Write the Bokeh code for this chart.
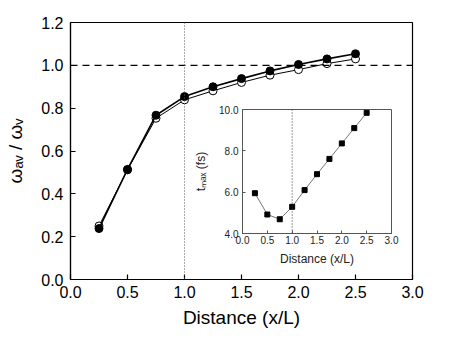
from bokeh.plotting import figure
from bokeh.layouts import column
from bokeh.models import Span, FixedTicker, NumeralTickFormatter
from bokeh.embed import file_html
from bokeh.resources import INLINE

# main data
dist = [0.25, 0.5, 0.75, 1.0, 1.25, 1.5, 1.75, 2.0, 2.25, 2.5]
ratio_filled = [0.238, 0.514, 0.767, 0.854, 0.900, 0.938, 0.974, 1.004, 1.030, 1.054]
ratio_open = [0.250, 0.512, 0.753, 0.839, 0.881, 0.920, 0.954, 0.980, 1.008, 1.030]

# inset data
inset_dist = [0.25, 0.5, 0.75, 1.0, 1.25, 1.5, 1.75, 2.0, 2.25, 2.5]
tmax = [5.95, 4.92, 4.69, 5.29, 6.10, 6.87, 7.61, 8.36, 9.10, 9.84]

main_xticks = [0.0, 0.5, 1.0, 1.5, 2.0, 2.5, 3.0]
main_yticks = [0.0, 0.2, 0.4, 0.6, 0.8, 1.0, 1.2]
inset_xticks = [0.0, 0.5, 1.0, 1.5, 2.0, 2.5, 3.0]
inset_yticks = [4.0, 6.0, 8.0, 10.0]

FONT = "Liberation Sans"

p = figure(width=430, height=340, x_range=(0, 3), y_range=(0, 1.2),
           output_backend="svg", toolbar_location=None,
           min_border_left=68, min_border_right=18, min_border_top=22, min_border_bottom=61)
p.grid.visible = False
p.outline_line_color = "black"
p.outline_line_width = 1.2
for ax in (p.xaxis[0], p.yaxis[0]):
    ax.major_tick_in = 5
    ax.major_tick_out = 0
    ax.minor_tick_in = 0
    ax.minor_tick_out = 0
    ax.axis_line_color = "black"
    ax.axis_line_width = 1.2
    ax.major_tick_line_width = 1.2
    ax.major_label_text_font = FONT
    ax.major_label_text_font_size = "16px"
    ax.major_label_text_color = "black"
    ax.axis_label_text_font = FONT
    ax.axis_label_text_font_style = "normal"
    ax.axis_label_text_font_size = "19px"
    ax.axis_label_text_color = "black"
    ax.formatter = NumeralTickFormatter(format="0.0")
p.xaxis.ticker = FixedTicker(ticks=main_xticks)
p.yaxis.ticker = FixedTicker(ticks=main_yticks)
p.xaxis.axis_label = "Distance (x/L)"
p.yaxis.axis_label = "ωₐᵥ / ωᵥ"
p.xaxis.major_label_standoff = 6
p.yaxis.major_label_standoff = 7
p.xaxis.axis_label_standoff = 6
p.yaxis.axis_label_standoff = 12

p.add_layout(Span(location=1.0, dimension="width", line_color="black",
                  line_dash="7 5", line_width=1.2))
p.add_layout(Span(location=1.0, dimension="height", line_color="#555555",
                  line_dash="1 2", line_width=1))

p.line(dist, ratio_open, line_color="black", line_width=1)
p.scatter(dist, ratio_open, size=8, marker="circle", fill_color="white",
          line_color="black", line_width=1)
p.line(dist, ratio_filled, line_color="black", line_width=1.6)
p.scatter(dist, ratio_filled, size=8, marker="circle", fill_color="black",
          line_color="black")

# inset
q = figure(width=237, height=165, x_range=(0, 3), y_range=(4, 10),
           output_backend="svg", toolbar_location=None,
           min_border_left=70, min_border_right=8, min_border_top=5, min_border_bottom=36,
           styles={"position": "absolute", "left": "172px", "top": "104px"})
q.grid.visible = False
q.background_fill_alpha = 0
q.border_fill_alpha = 0
q.outline_line_color = "#555555"
q.outline_line_width = 1
for ax in (q.xaxis[0], q.yaxis[0]):
    ax.major_tick_in = 3
    ax.major_tick_out = 0
    ax.minor_tick_in = 0
    ax.minor_tick_out = 0
    ax.axis_line_color = "#555555"
    ax.major_tick_line_color = "#555555"
    ax.major_label_text_font = FONT
    ax.major_label_text_font_size = "10px"
    ax.major_label_text_color = "#222222"
    ax.axis_label_text_font = FONT
    ax.axis_label_text_font_style = "normal"
    ax.axis_label_text_font_size = "12px"
    ax.axis_label_text_color = "#222222"
    ax.formatter = NumeralTickFormatter(format="0.0")
q.xaxis.ticker = FixedTicker(ticks=inset_xticks)
q.yaxis.ticker = FixedTicker(ticks=inset_yticks)
q.xaxis.axis_label = "Distance (x/L)"
q.yaxis.axis_label = "tₘₐₓ (fs)"
q.xaxis.major_label_standoff = 2
q.yaxis.major_label_standoff = 4
q.xaxis.axis_label_standoff = 5
q.yaxis.axis_label_standoff = 8

q.add_layout(Span(location=1.0, dimension="height", line_color="#333333",
                  line_dash="1 2", line_width=1))
q.line(inset_dist, tmax, line_color="#777777", line_width=1)
q.scatter(inset_dist, tmax, size=5, marker="square", fill_color="black", line_color="black")

layout = column(p, q)
open("out.html", "w").write(file_html(layout, INLINE))
